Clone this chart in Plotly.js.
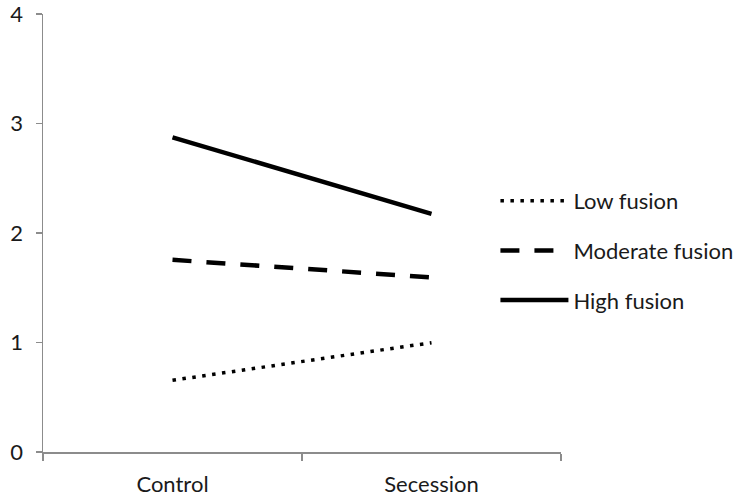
<!DOCTYPE html>
<html>
<head>
<meta charset="utf-8">
<script src="https://cdn.plot.ly/plotly-3.0.1.min.js"></script>
<style>html,body{margin:0;padding:0;background:#fff;}</style>
</head>
<body>
<div id="chart" style="width:745px;height:496px;"></div>
<script>
const categories = ["Control", "Secession"];
const lowFusion = [0.655, 0.998];
const moderateFusion = [1.755, 1.594];
const highFusion = [2.874, 2.175];
const seriesNames = ["Low fusion", "Moderate fusion", "High fusion"];
const yTicks = [0, 1, 2, 3, 4];

const FONT = "Lato, 'Open Sans', sans-serif";
const AX = "#8c8c8c";

const traces = [
  {x: categories, y: lowFusion, name: seriesNames[0], legendgroup: "a", mode: "lines",
   line: {color: "#000", width: 3.5, dash: "3.5px,6.5px"}},
  {x: categories, y: moderateFusion, name: seriesNames[1], legendgroup: "b", mode: "lines",
   line: {color: "#000", width: 4.5, dash: "19px,15px"}},
  {x: categories, y: highFusion, name: seriesNames[2], legendgroup: "c", mode: "lines",
   line: {color: "#000", width: 4.5}}
];

const layout = {
  width: 745, height: 496,
  margin: {l: 43, r: 184, t: 14, b: 44, autoexpand: false},
  paper_bgcolor: "#fff", plot_bgcolor: "#fff",
  font: {family: FONT, size: 22, color: "#1a1a1a"},
  showlegend: true,
  legend: {
    xref: "container", yref: "container",
    x: 0.665, y: 1 - 180/496, xanchor: "left", yanchor: "top",
    traceorder: "grouped", tracegroupgap: 18,
    itemwidth: 68,
    font: {family: FONT, size: 22, color: "#1a1a1a"},
    bgcolor: "rgba(0,0,0,0)"
  },
  xaxis: {
    type: "category", range: [-0.5, 1.5],
    showline: true, linecolor: AX, linewidth: 1.5,
    ticks: "outside", tickson: "boundaries", ticklen: 7, tickcolor: AX, tickwidth: 1.5,
    showgrid: false, zeroline: false, fixedrange: true,
    ticklabelstandoff: 12
  },
  yaxis: {
    range: [0, 4], tickvals: yTicks, ticktext: yTicks.map(String),
    showline: true, linecolor: AX, linewidth: 1.5,
    ticks: "outside", ticklen: 6, tickcolor: AX, tickwidth: 1.5,
    showgrid: false, zeroline: false, fixedrange: true,
    ticklabelstandoff: 8, ticklabeloverflow: "allow",
    tickfont: {size: 22}
  }
};

Plotly.newPlot("chart", traces, layout, {displayModeBar: false, staticPlot: true});
</script>
</body>
</html>
